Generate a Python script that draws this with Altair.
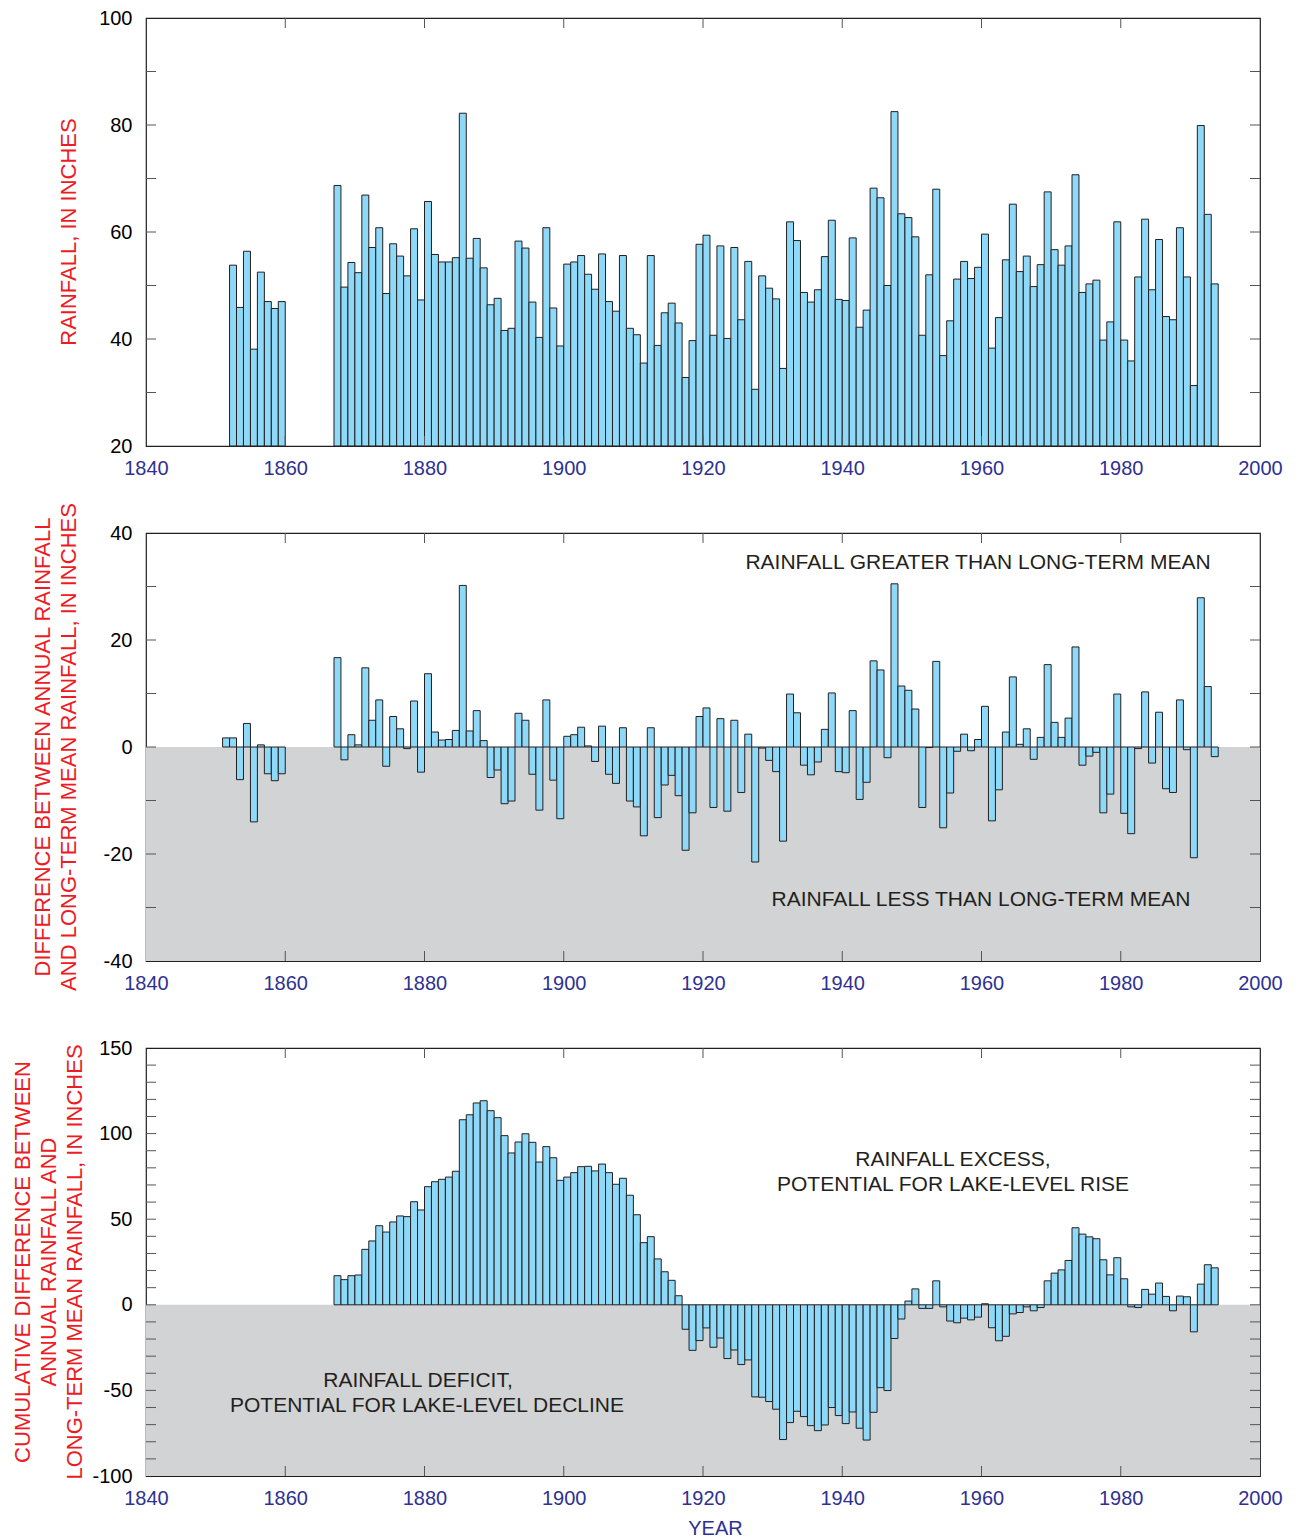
import altair as alt
import pandas as pd

# ---------------- data ----------------
rain_years = list(range(1852, 1860)) + list(range(1867, 1994))
rain_values = [
    53.8, 45.9, 56.4, 38.1, 52.5, 47.0, 45.7, 47.0,
    68.7, 49.7, 54.3, 52.4, 66.9, 57.1, 60.8, 48.5, 57.8, 55.5,
    51.8, 60.6, 47.3, 65.7, 55.8, 54.4, 54.4, 55.2, 82.2, 55.1,
    58.8, 53.3, 46.4, 47.6, 41.6, 42.0, 58.3, 57.0, 46.9, 40.3,
    60.8, 45.8, 38.7, 54.0, 54.4, 55.6, 52.1, 49.3, 55.9, 47.0,
    45.2, 55.6, 42.0, 40.8, 35.5, 55.6, 38.8, 44.9, 46.7, 43.0,
    32.8, 39.7, 57.7, 59.4, 40.7, 57.4, 40.1, 57.1, 43.6, 54.5,
    30.6, 51.8, 49.5, 47.5, 34.5, 61.9, 58.4, 48.7, 46.9, 49.2,
    55.4, 62.2, 47.4, 47.2, 58.9, 42.2, 45.4, 68.2, 66.4, 50.0,
    82.5, 63.4, 62.7, 59.1, 40.7, 52.0, 68.0, 36.9, 43.4, 51.2,
    54.5, 51.3, 53.4, 59.6, 38.3, 44.0, 54.8, 65.2, 52.6, 55.5,
    49.8, 53.9, 67.5, 56.7, 53.8, 57.4, 70.7, 48.7, 50.3, 51.0,
    39.8, 43.2, 61.9, 39.8, 35.9, 51.6, 62.4, 49.2, 58.6, 44.2,
    43.6, 60.8, 51.6, 31.3, 79.9, 63.3, 50.3,
]

diff_years = [1851] + list(range(1852, 1860)) + list(range(1867, 1994))
diff_values = [
    1.7,
    1.7, -6.1, 4.4, -14.0, 0.4, -5.0, -6.3, -5.0,
    16.7, -2.4, 2.3, 0.4, 14.8, 5.0, 8.8, -3.6, 5.7, 3.4,
    -0.3, 8.6, -4.7, 13.7, 2.8, 1.3, 1.4, 3.1, 30.2, 3.0,
    6.8, 1.2, -5.7, -4.3, -10.6, -10.1, 6.3, 5.0, -5.1, -11.8,
    8.8, -6.2, -13.4, 2.0, 2.3, 3.7, 0.2, -2.7, 3.9, -5.1,
    -6.8, 3.6, -10.1, -11.2, -16.6, 3.6, -13.2, -7.1, -5.3, -9.1,
    -19.3, -12.3, 5.7, 7.3, -11.3, 5.3, -12.0, 5.0, -8.5, 2.4,
    -21.5, -0.2, -2.5, -4.6, -17.6, 9.9, 6.4, -3.4, -5.2, -2.8,
    3.3, 10.1, -4.6, -4.8, 6.8, -9.8, -6.6, 16.1, 14.4, -2.0,
    30.5, 11.4, 10.6, 7.1, -11.3, -0.1, 16.0, -15.1, -8.6, -0.8,
    2.4, -0.7, 1.4, 7.6, -13.8, -8.0, 2.8, 13.1, 0.5, 3.4,
    -2.3, 1.8, 15.4, 4.6, 1.8, 5.4, 18.7, -3.4, -1.7, -1.0,
    -12.3, -8.8, 9.9, -12.4, -16.2, -0.3, 10.3, -3.0, 6.5, -7.8,
    -8.5, 8.8, -0.5, -20.7, 27.9, 11.3, -1.8,
]

cum_years = list(range(1867, 1994))
cum_values = [
    17.0, 14.7, 17.0, 17.4, 32.4, 37.3, 46.2, 42.5, 48.4, 51.9,
    51.5, 60.2, 55.4, 69.0, 71.9, 73.3, 74.6, 78.0, 108.1, 111.0,
    117.9, 119.2, 113.4, 109.3, 98.8, 88.7, 95.1, 99.9, 94.9, 83.4,
    92.4, 85.9, 72.7, 74.6, 77.2, 80.7, 80.9, 78.2, 82.2, 77.2,
    70.4, 73.9, 64.0, 52.6, 36.3, 39.8, 26.8, 19.3, 14.3, 5.3,
    -14.3, -26.6, -20.9, -13.5, -24.8, -19.4, -31.4, -26.4, -34.9, -32.2,
    -53.8, -54.0, -56.5, -61.0, -78.7, -68.8, -62.2, -65.3, -70.6, -73.5,
    -70.2, -60.0, -64.7, -69.4, -62.6, -72.1, -79.0, -62.8, -48.4, -50.1,
    -19.7, -8.3, 2.2, 9.3, -2.1, -2.1, 14.0, -1.2, -9.5, -10.5,
    -7.8, -8.8, -7.2, 0.6, -13.4, -21.0, -18.4, -5.3, -4.5, -1.2,
    -3.5, -1.6, 14.0, 18.5, 20.4, 25.9, 45.0, 41.3, 39.7, 38.6,
    26.3, 17.5, 27.5, 15.2, -1.2, -1.6, 9.0, 6.2, 12.7, 4.9,
    -3.5, 5.1, 4.7, -15.8, 12.1, 23.4, 21.6,
]

x_label_values = [1840, 1860, 1880, 1900, 1920, 1940, 1960, 1980, 2000]
x_tick_values = [1860, 1880, 1900, 1920, 1940, 1960, 1980]

rain_labels = [20, 40, 60, 80, 100]
rain_ticks = [30, 40, 50, 60, 70, 80, 90]
diff_labels = [-40, -20, 0, 20, 40]
diff_ticks = [-30, -20, -10, 0, 10, 20, 30]
cum_labels = [-100, -50, 0, 50, 100, 150]
cum_ticks = [-90, -80, -70, -60, -50, -40, -30, -20, -10, 0, 10, 20, 30, 40,
             50, 60, 70, 80, 90, 100, 110, 120, 130, 140]

# ---------------- styling ----------------
FONT = "Liberation Sans"
BLUE = "#8ed8f8"
EDGE = "#231f20"
GRAY = "#d1d3d4"
RED = "#ed1c24"
NAVY = "#2e3192"
TICK = "#555555"
W, H = 1114, 428

xscale = alt.Scale(domain=[1840, 2000], nice=False, zero=False)


def x_axis(title=None):
    kw = dict(values=x_label_values, labelExpr="'' + datum.value", labelColor=NAVY,
              labelFont=FONT, labelFontSize=20, labelPadding=12, labelFlush=False,
              labelOverlap=False, ticks=False, tickSize=0, domain=False, grid=False)
    if title:
        kw.update(title=title, titleColor=NAVY, titleFont=FONT, titleFontSize=20,
                  titleFontWeight="normal", titlePadding=10, titleX=569, titleAlign="center")
    else:
        kw.update(title=None)
    return alt.Axis(**kw)


def y_axis(values):
    return alt.Axis(values=values, labelExpr="'' + datum.value", labelColor="black",
                    labelFont=FONT, labelFontSize=20, labelPadding=14, labelFlush=False,
                    labelOverlap=False, ticks=False, tickSize=0, domain=False, grid=False,
                    title=None)


def frame_ticks(yscale, xax, yax, yticks):
    xt = pd.DataFrame({"t": x_tick_values})
    yt = pd.DataFrame({"t": yticks})
    rule = dict(color=TICK, strokeWidth=1)
    bottom = alt.Chart(xt).mark_rule(**rule).encode(
        x=alt.X("t:Q", scale=xscale, axis=xax), y=alt.value(H), y2=alt.value(H - 10))
    top = alt.Chart(xt).mark_rule(**rule).encode(
        x=alt.X("t:Q", scale=xscale, axis=xax), y=alt.value(0), y2=alt.value(10))
    left = alt.Chart(yt).mark_rule(**rule).encode(
        y=alt.Y("t:Q", scale=yscale, axis=yax), x=alt.value(0), x2=alt.value(10))
    right = alt.Chart(yt).mark_rule(**rule).encode(
        y=alt.Y("t:Q", scale=yscale, axis=yax), x=alt.value(W), x2=alt.value(W - 10))
    return [bottom, top, left, right]


def text_layer(line, x, y, color="#231f20", size=21, angle=0):
    kw = dict(font=FONT, fontSize=size, color=color, align="center", baseline="middle")
    if angle:
        kw["angle"] = angle
    return alt.Chart(pd.DataFrame({"t": [line]})).mark_text(**kw).encode(
        text="t:N", x=alt.value(x), y=alt.value(y))


def bars(years, values, yscale, xax, yax, base):
    df = pd.DataFrame({"year": years, "value": values})
    return alt.Chart(df).transform_calculate(end="datum.year + 1").mark_rect(
        fill=BLUE, stroke=EDGE, strokeWidth=1).encode(
        x=alt.X("year:Q", scale=xscale, axis=xax),
        x2="end:Q",
        y=alt.Y("value:Q", scale=yscale, axis=yax),
        y2=alt.datum(base),
    )


def gray_below(ymin, yscale, xax, yax):
    df = pd.DataFrame({"x0": [1840], "x1": [2000], "y0": [0], "y1": [ymin]})
    return alt.Chart(df).mark_rect(fill=GRAY).encode(
        x=alt.X("x0:Q", scale=xscale, axis=xax), x2="x1:Q",
        y=alt.Y("y0:Q", scale=yscale, axis=yax), y2="y1:Q")


TS = 22  # y-title font size

# ---------------- panel 1 ----------------
s1 = alt.Scale(domain=[20, 100], nice=False, zero=False)
xa1, ya1 = x_axis(), y_axis(rain_labels)
p1 = alt.layer(
    bars(rain_years, rain_values, s1, xa1, ya1, 20),
    *frame_ticks(s1, xa1, ya1, rain_ticks),
    text_layer("RAINFALL, IN INCHES", -77, H / 2, color=RED, size=TS, angle=270),
).properties(width=W, height=H)

# ---------------- panel 2 ----------------
s2 = alt.Scale(domain=[-40, 40], nice=False, zero=False)
xa2, ya2 = x_axis(), y_axis(diff_labels)
p2 = alt.layer(
    gray_below(-40, s2, xa2, ya2),
    bars(diff_years, diff_values, s2, xa2, ya2, 0),
    *frame_ticks(s2, xa2, ya2, diff_ticks),
    text_layer("DIFFERENCE BETWEEN ANNUAL RAINFALL", -103, H / 2, color=RED, size=TS, angle=270),
    text_layer("AND LONG-TERM MEAN RAINFALL, IN INCHES", -77, H / 2, color=RED, size=TS, angle=270),
    text_layer("RAINFALL GREATER THAN LONG-TERM MEAN", 832, 30),
    text_layer("RAINFALL LESS THAN LONG-TERM MEAN", 835, 367),
).properties(width=W, height=H)

# ---------------- panel 3 ----------------
s3 = alt.Scale(domain=[-100, 150], nice=False, zero=False)
xa3, ya3 = x_axis("YEAR"), y_axis(cum_labels)
p3 = alt.layer(
    gray_below(-100, s3, xa3, ya3),
    bars(cum_years, cum_values, s3, xa3, ya3, 0),
    *frame_ticks(s3, xa3, ya3, cum_ticks),
    text_layer("CUMULATIVE DIFFERENCE BETWEEN", -123, H / 2, color=RED, size=TS, angle=270),
    text_layer("ANNUAL RAINFALL AND", -97, H / 2, color=RED, size=TS, angle=270),
    text_layer("LONG-TERM MEAN RAINFALL, IN INCHES", -71, H / 2, color=RED, size=TS, angle=270),
    text_layer("RAINFALL EXCESS,", 807, 112),
    text_layer("POTENTIAL FOR LAKE-LEVEL RISE", 807, 137),
    text_layer("RAINFALL DEFICIT,", 272, 333),
    text_layer("POTENTIAL FOR LAKE-LEVEL DECLINE", 281, 358),
).properties(width=W, height=H)

chart = alt.vconcat(p1, p2, p3, spacing=87, bounds="flush").properties(
    padding={"left": 3, "top": -1, "right": 5, "bottom": 0}
).configure_view(stroke=EDGE, strokeWidth=1.2)

chart.save("out.html", embed_options={"renderer": "svg", "actions": False})
